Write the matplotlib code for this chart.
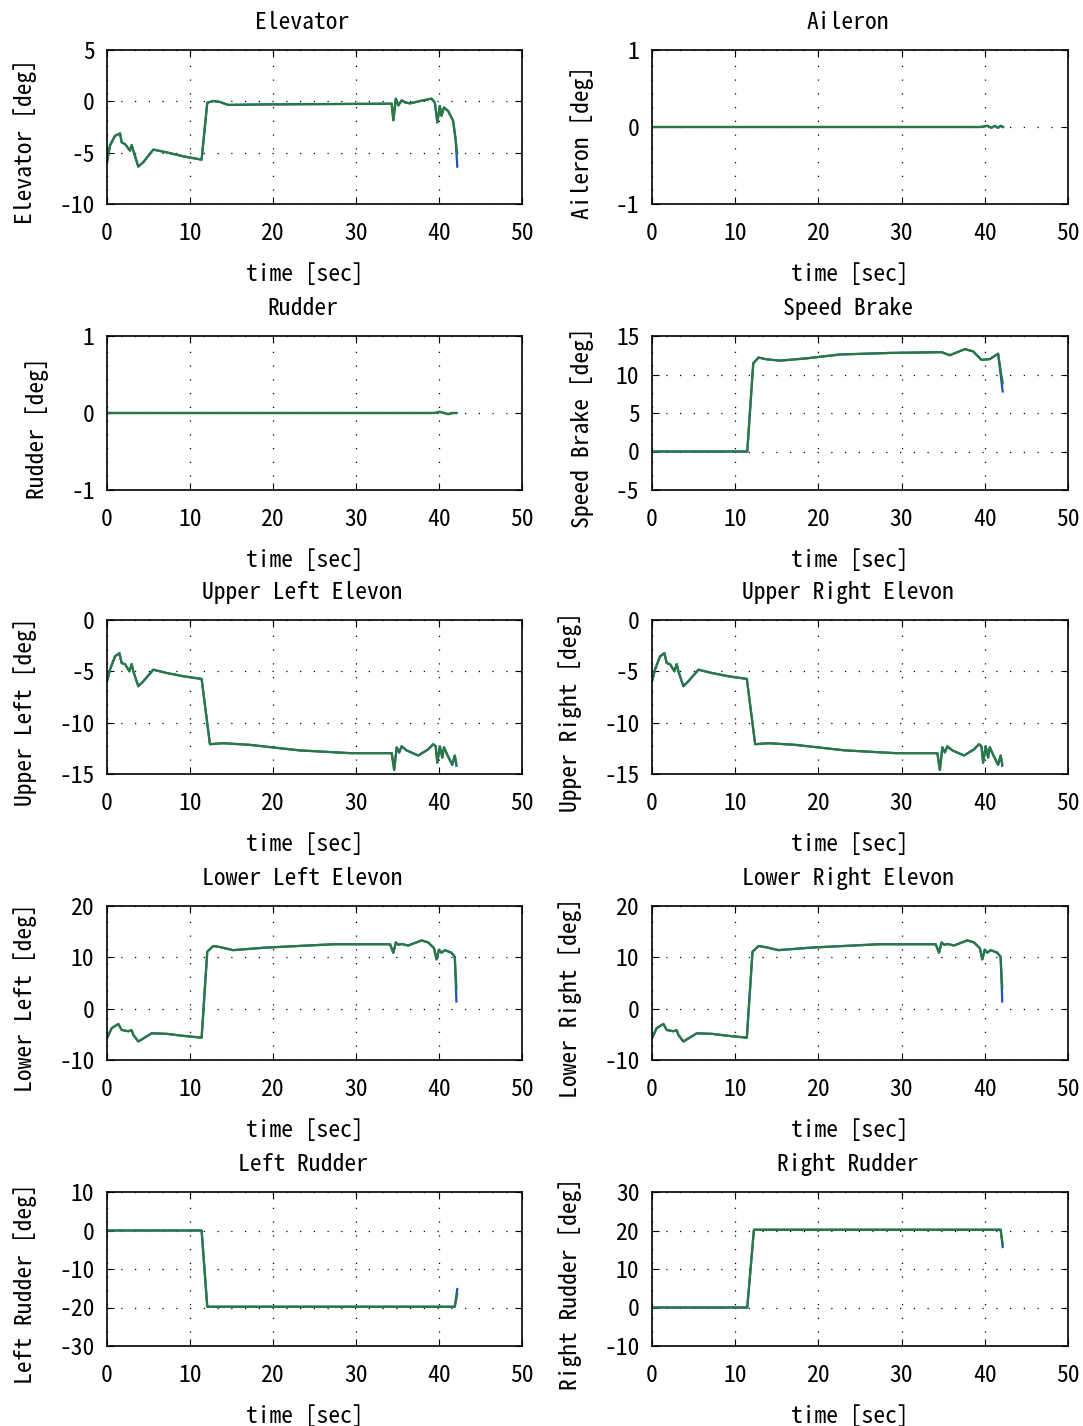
import matplotlib
matplotlib.use("Agg")
import matplotlib.pyplot as plt

plt.rcParams['font.family'] = ['Noto Sans Mono CJK JP', 'Noto Sans CJK JP', 'DejaVu Sans']
plt.rcParams['font.size'] = 17
plt.rcParams['axes.unicode_minus'] = False

# ---- data (time [sec], deflection [deg]) ----
elev_t = [0, 0.36, 0.96, 1.57, 1.77, 2.17, 2.77, 2.97, 3.17, 3.77, 4.37, 5.58, 7.18, 9.2, 11.4,
          12.08, 12.8, 13.6, 14.6, 19.2, 34.3, 34.5, 34.8, 35.1, 35.5, 35.9, 36.5, 38.1, 39.1,
          39.5, 39.8, 40.1, 40.3, 40.6, 41.1, 41.7, 42.0, 42.2]
elev_v = [-5.93, -4.3, -3.36, -3.13, -4.0, -4.16, -4.8, -4.26, -4.8, -6.36, -5.93, -4.7, -4.97,
          -5.36, -5.68, -0.13, 0.03, -0.06, -0.35, -0.3, -0.23, -1.84, 0.26, -0.4, 0.1, -0.1,
          -0.2, 0.1, 0.26, -0.13, -2.06, -0.45, -1.42, -0.6, -0.94, -1.9, -3.68, -5.1]
elev_end_cmd = -6.36

ail_t = [0, 10, 20, 30, 39.5, 40.3, 40.8, 41.2, 41.6, 41.9, 42.2]
ail_v = [0, 0, 0, 0, 0, 0.015, -0.01, 0.015, -0.01, 0.015, 0.0]
ail_end_cmd = 0.0

rud_t = [0, 10, 20, 30, 39.5, 40.1, 40.6, 41.1, 41.6, 42.1]
rud_v = [0, 0, 0, 0, 0, 0.015, 0.0, -0.015, 0.0, 0.0]
rud_end_cmd = 0.0

sb_t = [0, 11.45, 12.17, 12.8, 13.8, 15.4, 18.6, 22.6, 28.6, 34.8, 35.8, 37.6, 38.6, 39.6,
        40.6, 41.6, 42.15]
sb_v = [0, 0, 11.45, 12.2, 11.97, 11.8, 12.1, 12.6, 12.8, 12.9, 12.5, 13.3, 13.0, 11.9,
        12.0, 12.7, 8.85]
sb_end_cmd = 7.8

ule_t = [0, 0.36, 0.96, 1.49, 1.77, 2.17, 2.69, 2.97, 3.17, 3.77, 4.37, 5.58, 7.18, 9.2, 11.4,
         12.4, 14.0, 17.2, 23.2, 29.3, 34.3, 34.6, 34.9, 35.2, 35.5, 36.1, 37.5, 38.7, 39.3,
         39.6, 39.8, 40.1, 40.4, 40.6, 41.1, 41.6, 41.9, 42.1]
ule_v = [-5.97, -4.84, -3.55, -3.23, -4.2, -4.3, -5.0, -4.29, -5.0, -6.45, -5.97, -4.84,
         -5.16, -5.48, -5.74, -12.1, -12.0, -12.16, -12.7, -12.97, -12.97, -14.6, -12.4, -12.9,
         -12.3, -12.7, -13.2, -12.6, -12.1, -12.3, -13.9, -12.3, -13.4, -12.4, -13.3, -14.1,
         -13.2, -14.0]
ule_end_cmd = -14.2

lle_t = [0, 0.56, 1.37, 1.77, 2.57, 2.97, 3.17, 3.77, 5.38, 7.18, 9.2, 11.4, 12.08, 12.8,
         13.6, 15.2, 19.2, 27.3, 34.1, 34.5, 34.8, 35.1, 35.5, 36.3, 37.9, 38.7, 39.4, 39.7,
         40.0, 40.3, 40.7, 41.5, 41.9, 42.1]
lle_v = [-5.77, -3.8, -2.98, -4.15, -4.4, -4.2, -5.1, -6.4, -4.8, -4.9, -5.3, -5.65, 11.1,
         12.2, 12.0, 11.4, 11.9, 12.55, 12.55, 10.9, 12.9, 12.45, 12.6, 12.3, 13.3, 12.9, 11.8,
         9.6, 11.5, 10.9, 11.4, 10.9, 10.1, 4.0]
lle_end_cmd = 1.4

lr_t = [0, 11.4, 12.08, 41.9, 42.2]
lr_v = [0, 0, -19.8, -19.8, -16.5]
lr_end_cmd = -15.2

rr_t = [0, 11.45, 12.25, 41.9, 42.15]
rr_v = [0, 0, 20.2, 20.2, 16.5]
rr_end_cmd = 15.7

panels = [
    ("Elevator", "Elevator [deg]", elev_t, elev_v, elev_end_cmd, (-10, 5), [-10, -5, 0, 5]),
    ("Aileron", "Aileron [deg]", ail_t, ail_v, ail_end_cmd, (-1, 1), [-1, 0, 1]),
    ("Rudder", "Rudder [deg]", rud_t, rud_v, rud_end_cmd, (-1, 1), [-1, 0, 1]),
    ("Speed Brake", "Speed Brake [deg]", sb_t, sb_v, sb_end_cmd, (-5, 15), [-5, 0, 5, 10, 15]),
    ("Upper Left Elevon", "Upper Left [deg]", ule_t, ule_v, ule_end_cmd, (-15, 0), [-15, -10, -5, 0]),
    ("Upper Right Elevon", "Upper Right [deg]", ule_t, ule_v, ule_end_cmd, (-15, 0), [-15, -10, -5, 0]),
    ("Lower Left Elevon", "Lower Left [deg]", lle_t, lle_v, lle_end_cmd, (-10, 20), [-10, 0, 10, 20]),
    ("Lower Right Elevon", "Lower Right [deg]", lle_t, lle_v, lle_end_cmd, (-10, 20), [-10, 0, 10, 20]),
    ("Left Rudder", "Left Rudder [deg]", lr_t, lr_v, lr_end_cmd, (-30, 10), [-30, -20, -10, 0, 10]),
    ("Right Rudder", "Right Rudder [deg]", rr_t, rr_v, rr_end_cmd, (-10, 30), [-10, 0, 10, 20, 30]),
]

W, H = 1083, 1426
fig = plt.figure(figsize=(W / 100, H / 100), dpi=100)
col_x = [107, 652]
col_w = [415, 416]
row_y = [50, 336, 620, 906, 1192]
ax_h = 154

for i, (title, ylab, t, v, end_cmd, ylim, yticks) in enumerate(panels):
    r, c = divmod(i, 2)
    ax = fig.add_axes([col_x[c] / W, 1 - (row_y[r] + ax_h) / H, col_w[c] / W, ax_h / H])
    cmd = v[:-1] + [end_cmd]
    ax.plot(t, cmd, color='#1f4fc8', lw=1.6)
    ax.plot(t, v, color='#2a7a40', lw=1.6)
    ax.set_xlim(0, 50)
    ax.set_ylim(*ylim)
    ax.set_xticks([0, 10, 20, 30, 40, 50])
    ax.set_yticks(yticks)
    ax.grid(True, color='black', linestyle=(0, (1, 10)), linewidth=0.9)
    ax.tick_params(direction='in', top=True, right=True, length=5, width=0.8)
    ax.tick_params(axis='x', pad=13)
    ax.tick_params(axis='y', pad=9)
    for s in ax.spines.values():
        s.set_linewidth(1.2)
    # MATLAB-style text sits a little off-centre
    ax.set_title(title, pad=15, fontsize=17, x=0.5 - 12 / col_w[c])
    ax.set_xlabel("time [sec]", labelpad=12)
    ax.xaxis.set_label_coords(0.5 - 10 / col_w[c], -0.38)
    ax.set_ylabel(ylab, labelpad=16)
    ax.yaxis.label.set_y(0.5 - 15 / ax_h)

fig.savefig("out.png", dpi=100)
